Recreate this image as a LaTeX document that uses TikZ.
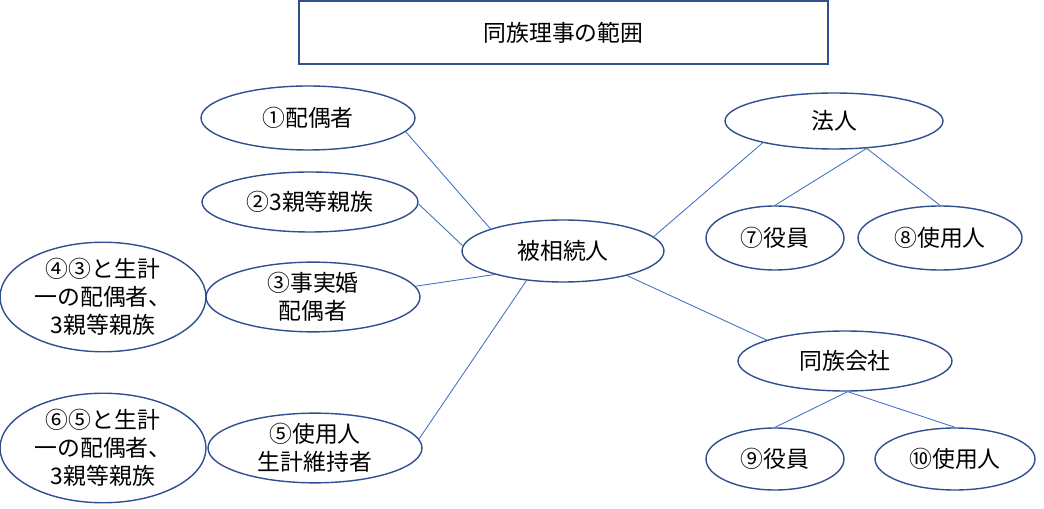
\documentclass[tikz,border=0pt]{standalone}
\usepackage{fontspec}
\setmainfont{Noto Sans CJK JP}
\usetikzlibrary{shapes.geometric}
\definecolor{ebord}{HTML}{2F4F8F}
\definecolor{lcol}{HTML}{4472C4}
\begin{document}
\begin{tikzpicture}[x=0.02cm,y=-0.02cm,
  ell/.style={ellipse,draw=ebord,line width=0.8pt,inner sep=0pt,align=center,font=\fontsize{13}{16}\selectfont},
  conn/.style={draw=lcol,line width=0.5pt}]
\useasboundingbox (0,0) rectangle (1044,509);
\node[draw=ebord,line width=0.8pt,minimum width=10.58cm,minimum height=1.26cm,font=\fontsize{13}{16}\selectfont] (title) at (563.5,32.5) {同族理事の範囲};
\node[ell,minimum width=4.28cm,minimum height=1.28cm] (e1) at (308,118) {①配偶者};
\node[ell,minimum width=4.32cm,minimum height=1.2cm] (e2) at (310,202) {②3親等親族};
\node[ell,minimum width=4.28cm,minimum height=1.28cm] (e3) at (313,297) {③事実婚\\配偶者};
\node[ell,minimum width=4.12cm,minimum height=2cm] (e4) at (103,297) {④③と生計\\一の配偶者、\\3親等親族};
\node[ell,minimum width=4.28cm,minimum height=1.28cm] (e5) at (315,448) {⑤使用人\\生計維持者};
\node[ell,minimum width=4.12cm,minimum height=2.12cm] (e6) at (103,448) {⑥⑤と生計\\一の配偶者、\\3親等親族};
\node[ell,minimum width=4.04cm,minimum height=1.24cm] (hi) at (563,251) {被相続人};
\node[ell,minimum width=4.36cm,minimum height=1.12cm] (hj) at (834,121) {法人};
\node[ell,minimum width=2.76cm,minimum height=1.28cm] (e7) at (775,238) {⑦役員};
\node[ell,minimum width=3.28cm,minimum height=1.28cm] (e8) at (940,238) {⑧使用人};
\node[ell,minimum width=4.28cm,minimum height=1.2cm] (dz) at (845,361) {同族会社};
\node[ell,minimum width=2.76cm,minimum height=1.24cm] (e9) at (775,459) {⑨役員};
\node[ell,minimum width=3.2cm,minimum height=1.24cm] (e10) at (955,459) {⑩使用人};
\draw[conn] (e1.-8) -- (hi.163);
\draw[conn] (e2.-1) -- (hi.177);
\draw[conn] (e3.6) -- (hi.-161);
\draw[conn] (e5.5) -- (hi.-141);
\draw[conn] (hi.9) -- (hj.-163);
\draw[conn] (hi.-21) -- (dz.165);
\draw[conn] (hj.-40) -- (e7.north);
\draw[conn] (hj.-40) -- (e8.north);
\draw[conn] (dz.-85) -- (e9.north);
\draw[conn] (dz.-85) -- (e10.north);
\end{tikzpicture}
\end{document}
